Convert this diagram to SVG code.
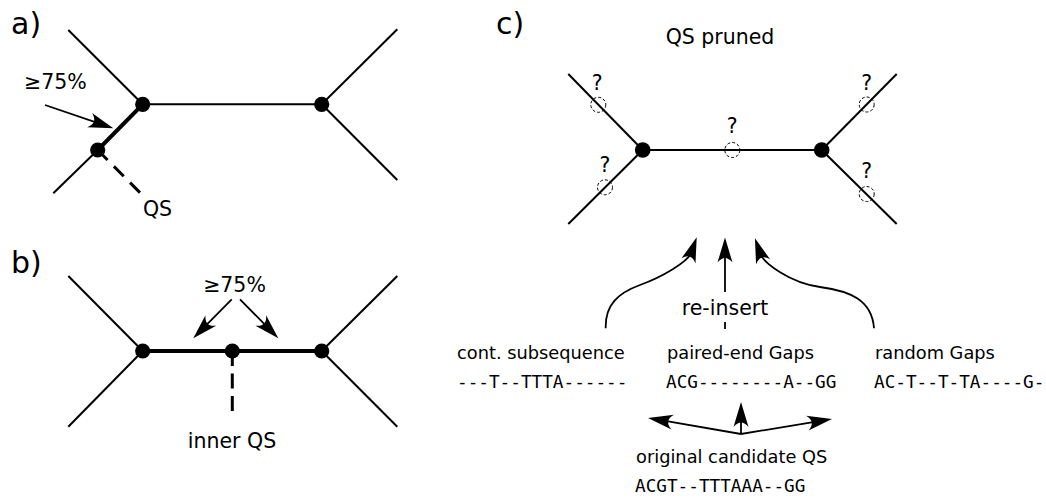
<svg xmlns="http://www.w3.org/2000/svg" width="1046" height="498" viewBox="0 0 1046 498">
<style>
  .edge{stroke:#000;stroke-width:2;fill:none;stroke-linecap:butt}
  .thick{stroke:#000;stroke-width:4;fill:none}
  .dash{stroke:#000;stroke-width:3;fill:none}
  .arr{stroke:#000;stroke-width:1.8;fill:none}
  .node{fill:#000}
  .slot{fill:none;stroke:#000;stroke-width:1;stroke-dasharray:3 2}
  .lbl{font-family:"DejaVu Sans","Liberation Sans",sans-serif;font-size:20.5px;fill:#000}
  .big{font-family:"DejaVu Sans","Liberation Sans",sans-serif;font-size:30px;fill:#000}
  .small{font-family:"DejaVu Sans","Liberation Sans",sans-serif;font-size:17.8px;fill:#000}
  .seq{font-family:"DejaVu Sans Mono","Liberation Mono",monospace;font-size:17.7px;fill:#000}
</style>
<defs>
  <marker id="ah" markerUnits="userSpaceOnUse" viewBox="-26 -8 27 16" markerWidth="27" markerHeight="16" refX="-16" refY="0" orient="auto" overflow="visible">
    <path d="M0,0 L-25,-7.5 C-19,-2.5 -19,2.5 -25,7.5 Z" fill="#000"/>
  </marker>
</defs>

<!-- panel labels -->
<text class="big" x="11" y="34">a)</text>
<text class="big" x="11" y="273">b)</text>
<text class="big" x="496" y="34">c)</text>

<!-- Panel a -->
<g id="panel-a">
  <line class="edge" x1="68.3" y1="30" x2="142.7" y2="104.3"/>
  <line class="edge" x1="53.3" y1="193.3" x2="97.7" y2="150"/>
  <line class="thick" x1="97.7" y1="150" x2="142.7" y2="104.3"/>
  <line class="edge" x1="142.7" y1="104.3" x2="321.7" y2="104.3"/>
  <line class="edge" x1="321.7" y1="104.3" x2="397.3" y2="29.3"/>
  <line class="edge" x1="321.7" y1="104.3" x2="397.3" y2="180"/>
  <line class="dash" x1="97.7" y1="150" x2="140" y2="192.7" stroke-dasharray="14 9"/>
  <g id="a-node1"><circle class="node" cx="142.7" cy="104.3" r="7.6"/></g>
  <g id="a-node2"><circle class="node" cx="321.7" cy="104.3" r="7.6"/></g>
  <g id="a-qs"><circle class="node" cx="97.7" cy="150" r="7.6"/></g>
  <text class="lbl" x="24" y="89">≥75%</text>
  <text class="lbl" x="157.5" y="216" text-anchor="middle">QS</text>
</g>

<!-- Panel b -->
<g id="panel-b">
  <line class="edge" x1="68.3" y1="276" x2="142.7" y2="351"/>
  <line class="edge" x1="68.3" y1="426.7" x2="142.7" y2="351"/>
  <line class="thick" x1="142.7" y1="351" x2="321.7" y2="351"/>
  <line class="edge" x1="321.7" y1="351" x2="397.3" y2="276"/>
  <line class="edge" x1="321.7" y1="351" x2="397.3" y2="426.7"/>
  <line class="dash" x1="232.3" y1="351" x2="232.3" y2="412.3" stroke-dasharray="15 7.5"/>
  <g id="b-node1"><circle class="node" cx="142.7" cy="351" r="7.6"/></g>
  <g id="b-qs"><circle class="node" cx="232.3" cy="351" r="7.6"/></g>
  <g id="b-node2"><circle class="node" cx="321.7" cy="351" r="7.6"/></g>
  <text class="lbl" x="234.5" y="292" text-anchor="middle">≥75%</text>
  <text class="lbl" x="232" y="448" text-anchor="middle">inner QS</text>
</g>

<!-- Panel c tree -->
<g id="panel-c">
  <text class="lbl" x="720" y="44" text-anchor="middle">QS pruned</text>
  <line class="edge" x1="568.3" y1="74" x2="642.7" y2="150"/>
  <line class="edge" x1="568.3" y1="224" x2="642.7" y2="150"/>
  <line class="edge" x1="642.7" y1="150" x2="821.7" y2="150"/>
  <line class="edge" x1="821.7" y1="150" x2="896.7" y2="74"/>
  <line class="edge" x1="821.7" y1="150" x2="896.7" y2="224"/>
  <g id="c-node1"><circle class="node" cx="642.7" cy="150" r="7.8"/></g>
  <g id="c-node2"><circle class="node" cx="821.7" cy="150" r="7.8"/></g>
  <g id="c-slots">
    <circle class="slot" cx="598.3" cy="104.8" r="7.5"/>
    <circle class="slot" cx="605" cy="187.3" r="7.5"/>
    <circle class="slot" cx="732.3" cy="150" r="7.5"/>
    <circle class="slot" cx="866.7" cy="104.5" r="7.5"/>
    <circle class="slot" cx="866.7" cy="194" r="7.5"/>
  </g>
  <text class="lbl" x="597.3" y="90" text-anchor="middle">?</text>
  <text class="lbl" x="605" y="171.7" text-anchor="middle">?</text>
  <text class="lbl" x="732.3" y="133.3" text-anchor="middle">?</text>
  <text class="lbl" x="866.7" y="90" text-anchor="middle">?</text>
  <text class="lbl" x="866.7" y="178.3" text-anchor="middle">?</text>
</g>

<!-- Panel c labels -->
<g id="c-texts">
  <text class="lbl" x="725" y="315" text-anchor="middle">re-insert</text>
  <text class="small" x="457" y="359">cont. subsequence</text>
  <text class="small" x="667" y="359">paired-end Gaps</text>
  <text class="small" x="875" y="359">random Gaps</text>
  <text class="seq" x="457" y="388">---T--TTTA------</text>
  <text class="seq" x="666" y="388">ACG--------A--GG</text>
  <text class="seq" x="874" y="388">AC-T--T-TA----G-</text>
  <text class="small" x="636" y="463">original candidate QS</text>
  <text class="seq" x="635" y="492">ACGT--TTTAAA--GG</text>
</g>

<!-- connectors -->
<g id="connectors">
  <line class="arr" x1="45" y1="105" x2="98.2" y2="123.1" marker-end="url(#ah)"/>
  <line class="arr" x1="231.7" y1="299.3" x2="204.5" y2="326.9" marker-end="url(#ah)"/>
  <line class="arr" x1="240" y1="299.3" x2="267.1" y2="326.9" marker-end="url(#ah)"/>
  <path class="arr" d="M605.7,328.3 C605,305 618,293 640,285 C662,277 688.1,261.8 691.4,252.4" marker-end="url(#ah)"/>
  <line class="arr" x1="725" y1="292" x2="725" y2="253.5" marker-end="url(#ah)"/>
  <line class="arr" x1="725" y1="322" x2="725" y2="329"/>
  <path class="arr" d="M874,328.3 C872,300 850,291 820,287 C790,283 763.5,262.9 760.2,253.4" marker-end="url(#ah)"/>
  <line class="arr" x1="741" y1="434" x2="663.8" y2="420.7" marker-end="url(#ah)"/>
  <line class="arr" x1="741" y1="434" x2="741" y2="418" marker-end="url(#ah)"/>
  <line class="arr" x1="741" y1="434" x2="816.2" y2="421.6" marker-end="url(#ah)"/>
</g>
</svg>
